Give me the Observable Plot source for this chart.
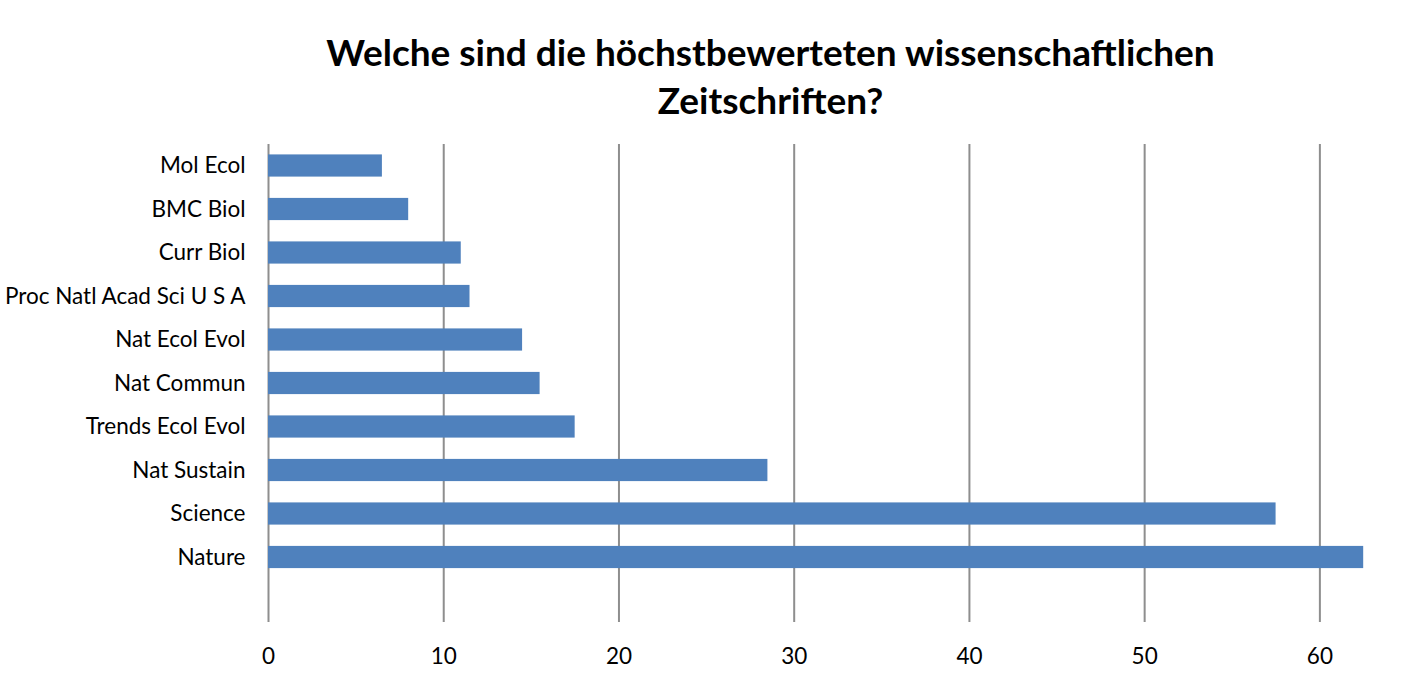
<!DOCTYPE html>
<html>
<head>
<meta charset="utf-8">
<script src="https://cdn.jsdelivr.net/npm/d3@7"></script>
<script src="https://cdn.jsdelivr.net/npm/@observablehq/plot@0.6"></script>
<style>
  html, body { margin: 0; padding: 0; background: #fff; }
  #title { width: 1423px; height: 130px; box-sizing: border-box; padding-top: 28px;
    font-family: Lato, "Noto Sans", sans-serif; font-weight: 700; font-size: 37px;
    line-height: 48px; text-align: center; color: #000; padding-left: 118px; }
  #chart svg { display: block; }
</style>
</head>
<body>
<div id="title">Welche sind die höchstbewerteten wissenschaftlichen<br>Zeitschriften?</div>
<div id="chart"></div>
<script>
const journals = ["Mol Ecol", "BMC Biol", "Curr Biol", "Proc Natl Acad Sci U S A", "Nat Ecol Evol",
  "Nat Commun", "Trends Ecol Evol", "Nat Sustain", "Science", "Nature"];
const scores = [6.5, 8, 11, 11.5, 14.5, 15.5, 17.5, 28.5, 57.5, 62.5];
const xTicks = [0, 10, 20, 30, 40, 50, 60];

const data = journals.map((j, i) => ({journal: j, score: scores[i]}));

const chart = Plot.plot({
  width: 1423,
  height: 549,
  marginTop: 14,
  marginBottom: 57,
  marginLeft: 268,
  marginRight: 16,
  style: {fontFamily: "Lato, 'Noto Sans', sans-serif", fontSize: "22.5px", color: "#000", background: "#fff"},
  x: {domain: [0, 65], ticks: xTicks, label: null},
  y: {domain: journals, range: [13.75, 448.75], paddingInner: 0.49, paddingOuter: 0.245, round: false, label: null},
  marks: [
    Plot.ruleX(xTicks, {stroke: "#8e8e8e", strokeWidth: 2, strokeOpacity: 1}),
    Plot.barX(data, {x: "score", y: "journal", fill: "#4f81bd"}),
    Plot.axisX({ticks: xTicks, tickSize: 0, tickPadding: 26, fontSize: 22.5, label: null}),
    Plot.axisY({tickSize: 0, tickPadding: 23, fontSize: 22.5, label: null})
  ]
});
document.getElementById("chart").appendChild(chart);
</script>
</body>
</html>
